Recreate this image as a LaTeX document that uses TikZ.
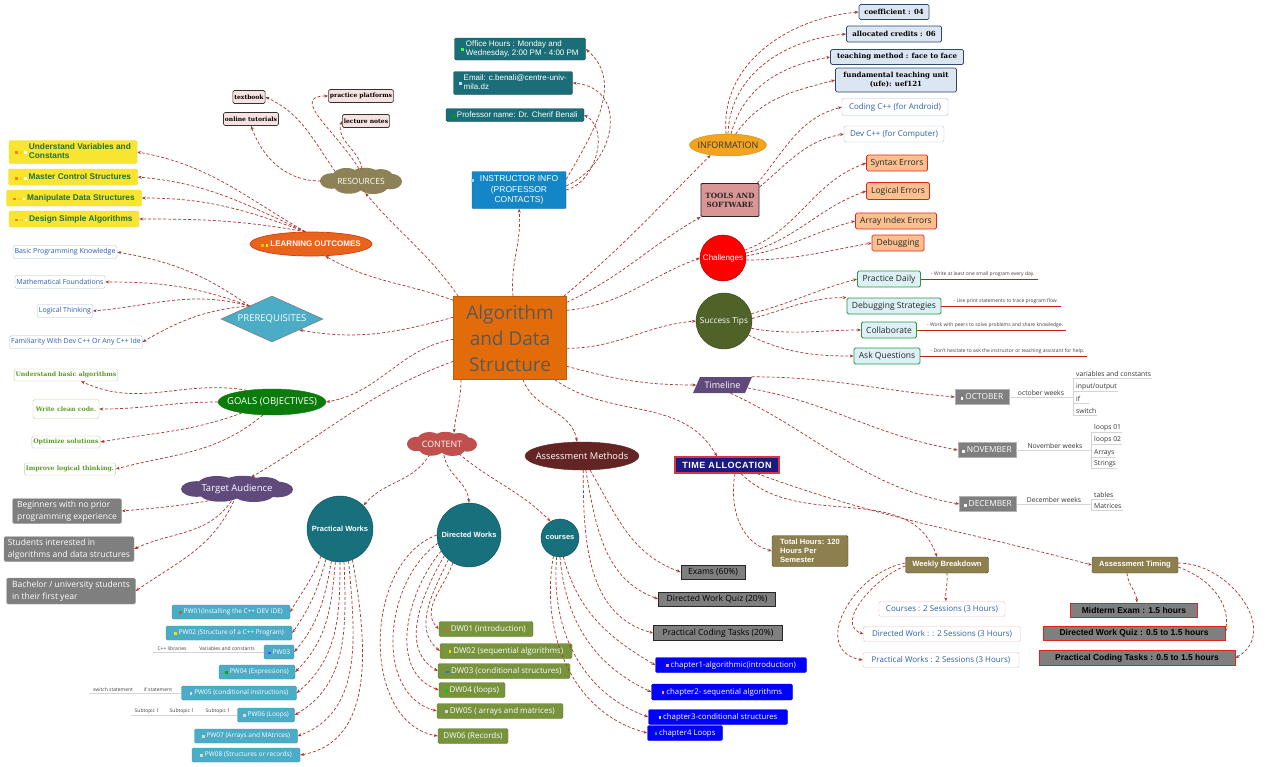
\documentclass[tikz,border=0pt]{standalone}
\usepackage{fontspec}
\setmainfont{Open Sans}
\newfontfamily\arial{Liberation Sans}
\newfontfamily\slab{DejaVu Serif}
\usetikzlibrary{shapes.geometric,shapes.symbols,arrows.meta}
\newcommand\fz[2]{\fontsize{#1}{#2}\selectfont}
\newcommand\icn[1]{\textcolor{#1}{\rule{2.6pt}{2.6pt}}\hspace{2pt}}
\newcommand\zb[1]{\makebox[0pt]{#1}}
% cloud body: centre x, centre y, width, height, colour
\newcommand\mycloud[5]{%
  \fill[#5] (#1,#2) ellipse ({0.38*#3} and {0.36*#4});
  \fill[#5] ({#1-0.36*#3},{#2}) ellipse ({0.14*#3} and {0.30*#4});
  \fill[#5] ({#1+0.36*#3},{#2-0.02*#4}) ellipse ({0.14*#3} and {0.30*#4});
  \fill[#5] ({#1-0.18*#3},{#2+0.18*#4}) ellipse ({0.17*#3} and {0.32*#4});
  \fill[#5] ({#1+0.05*#3},{#2+0.21*#4}) ellipse ({0.18*#3} and {0.30*#4});
  \fill[#5] ({#1+0.24*#3},{#2+0.16*#4}) ellipse ({0.15*#3} and {0.30*#4});
  \fill[#5] ({#1-0.15*#3},{#2-0.19*#4}) ellipse ({0.18*#3} and {0.30*#4});
  \fill[#5] ({#1+0.15*#3},{#2-0.20*#4}) ellipse ({0.18*#3} and {0.30*#4});
}
\definecolor{conc}{HTML}{A8362F}
\definecolor{orC}{HTML}{E36C0A}
\definecolor{cenT}{HTML}{595959}
\definecolor{resC}{HTML}{8C8157}
\definecolor{resCh}{HTML}{F6E2E2}
\definecolor{loC}{HTML}{E8641C}
\definecolor{loB}{HTML}{D83A10}
\definecolor{yelC}{HTML}{F7E531}
\definecolor{yelT}{HTML}{21703A}
\definecolor{preC}{HTML}{4BACC6}
\definecolor{pbB}{HTML}{A7C0DE}
\definecolor{pbT}{HTML}{2F5FA7}
\definecolor{goC}{HTML}{0B7B0B}
\definecolor{gbB}{HTML}{B3D69B}
\definecolor{gbT}{HTML}{5E9A2A}
\definecolor{taC}{HTML}{604A7B}
\definecolor{grC}{HTML}{7F7F7F}
\definecolor{insC}{HTML}{1386C8}
\definecolor{tealC}{HTML}{1B6E78}
\definecolor{infC}{HTML}{F2A41E}
\definecolor{infCh}{HTML}{DCE6F2}
\definecolor{infB}{HTML}{2B4A68}
\definecolor{toolC}{HTML}{D99694}
\definecolor{peachC}{HTML}{FAC090}
\definecolor{peB}{HTML}{E2231A}
\definecolor{stC}{HTML}{4F6228}
\definecolor{stCh}{HTML}{DDF0F5}
\definecolor{stB}{HTML}{2A9846}
\definecolor{navC}{HTML}{1A1A80}
\definecolor{navB}{HTML}{E0304A}
\definecolor{oliveC}{HTML}{8E7F4E}
\definecolor{wbB}{HTML}{F2BDBD}
\definecolor{cntC}{HTML}{C0504D}
\definecolor{circC}{HTML}{17707B}
\definecolor{pwC}{HTML}{4BACC6}
\definecolor{dwC}{HTML}{77933C}
\definecolor{amC}{HTML}{632523}
\definecolor{subL}{HTML}{D4D4D4}
\begin{document}
\begin{tikzpicture}[x=1pt,y=1pt,
  con/.style={draw=conc, line width=0.7pt, dash pattern=on 3pt off 2pt, -{Stealth[length=4pt,width=3pt]}},
  bx/.style={rectangle, rounded corners=1.5pt, inner sep=1.5pt, align=center},
  cen/.style={rectangle, fill=orC, draw=orC!85!black, minimum width=113, minimum height=83, font=\fz{19}{26}, text=cenT, align=center},
  cldn/.style={ellipse, inner sep=0pt},
  rch/.style={bx, draw=black!80, fill=resCh, line width=0.6pt, font=\slab\bfseries\fz{6}{7}, minimum height=13},
  ybox/.style={bx, fill=yelC, draw=yelC!85!orange, font=\arial\bfseries\fz{8.3}{9.5}, text=yelT, minimum height=16},
  pbox/.style={bx, draw=pbB, fill=white, font=\fz{7}{8}, text=pbT, minimum height=13},
  gbox/.style={bx, draw=gbB, fill=white, font=\slab\bfseries\fz{6.2}{7.5}, text=gbT, minimum height=12},
  tbox/.style={bx, fill=grC, draw=grC!70!white, font=\fz{8.5}{12}, text=white, align=left},
  ibox/.style={bx, fill=tealC, draw=tealC!70!black, font=\arial\fz{8}{9.5}, text=white},
  fbox/.style={bx, fill=infCh, draw=infB, line width=0.7pt, font=\slab\bfseries\fz{7}{8.5}, text=black},
  peb/.style={bx, fill=peachC, draw=peB, line width=0.7pt, font=\fz{8.5}{10}, text=black!85, minimum height=16},
  sbox/.style={bx, fill=stCh, draw=stB, line width=0.8pt, font=\fz{8.5}{10}, text=black!85, minimum height=16},
  note/.style={inner sep=1pt, font=\fz{5}{6}, text=black!75},
  notel/.style={draw=peB!85!black, line width=1pt},
  mbox/.style={bx, rounded corners=0pt, fill=grC, draw=grC!60!white, font=\fz{8.3}{9.5}, text=white, minimum height=15},
  subt/.style={inner sep=1pt, font=\fz{6.8}{8}, text=black!80},
  subl/.style={draw=subL, line width=0.9pt},
  ptx/.style={inner sep=1pt, font=\fz{5}{6}, text=black!75},
  obox/.style={bx, fill=oliveC, draw=oliveC!60!black, font=\arial\bfseries\fz{7.6}{9}, text=white, minimum height=16},
  wbx/.style={bx, fill=white, draw=wbB, font=\fz{8}{9}, text=pbT, minimum height=15},
  atx/.style={bx, rounded corners=0pt, fill=grC, draw=peB, line width=0.8pt, font=\arial\bfseries\fz{8.5}{10}, text=black, minimum height=14},
  tcir/.style={circle, fill=circC, draw=circC!70!black, font=\arial\bfseries\fz{7.5}{9}, text=white, inner sep=0pt},
  pwx/.style={bx, fill=pwC, draw=pwC!85!black, font=\fz{6.5}{8}, text=white, minimum height=14},
  dwx/.style={bx, fill=dwC, draw=dwC!85!black, font=\fz{8}{9.5}, text=white, minimum height=15},
  cx/.style={bx, fill=blue, draw=blue!80!black, font=\fz{7.8}{9}, text=white, minimum height=15},
  amx/.style={bx, rounded corners=0pt, fill=grC, draw=black!85, line width=0.8pt, font=\fz{8.5}{10}, text=black, minimum height=14}
]
\useasboundingbox (0,0) rectangle (1280,-766);
\fill[white] (0,0) rectangle (1280,-766);

% ---------- central
\node[cen] (c) at (510,-338) {Algorithm\\and Data\\Structure};

% ---------- resources
\mycloud{361}{-181}{82}{26}{resC}
\node[cldn, text=white, font=\fz{8.5}{10}, minimum width=80, minimum height=24] (res) at (361,-181) {\zb{RESOURCES}};
\node[rch] (tb) at (249,-97) {textbook};
\node[rch] (ot) at (251,-119) {online tutorials};
\node[rch] (pp) at (361,-96) {practice platforms};
\node[rch] (ln) at (366,-121) {lecture notes};

% ---------- learning outcomes
\node[ellipse, fill=loC, draw=loB, line width=0.7pt, text=white, font=\arial\bfseries\fz{8}{9}, minimum width=122, minimum height=24, inner sep=0pt] (lo) at (311,-244) {\zb{\icn{orange!60!yellow}\icn{yellow}LEARNING OUTCOMES}};
\node[ybox, minimum width=128, minimum height=23] (lo1) at (73,-152) {\icn{orange}\icn{yellow!70!orange}\icn{white}\begin{tabular}[c]{@{}l@{}}Understand Variables and\\Constants\end{tabular}};
\node[ybox, minimum width=129] (lo2) at (73,-177) {\icn{orange}\icn{yellow!70!orange}\icn{white}Master Control Structures};
\node[ybox, minimum width=135] (lo3) at (74,-198) {\icn{orange}\icn{yellow!70!orange}\icn{white}Manipulate Data Structures};
\node[ybox, minimum width=130] (lo4) at (74,-219) {\icn{orange}\icn{yellow!70!orange}\icn{white}Design Simple Algorithms};

% ---------- prerequisites
\node[diamond, fill=preC, draw=gray, line width=0.6pt, text=white, font=\fz{9.5}{11}, minimum width=102, minimum height=46, inner sep=0pt] (pre) at (272,-319) {\zb{PREREQUISITES}};
\node[pbox] (p1) at (65,-252) {Basic Programming Knowledge};
\node[pbox] (p2) at (60,-282) {Mathematical Foundations};
\node[pbox] (p3) at (65,-311) {Logical Thinking};
\node[pbox] (p4) at (76,-342) {Familiarity With Dev C++ Or Any C++ Ide};

% ---------- goals
\node[ellipse, fill=goC, draw=goC, text=white, font=\fz{9.5}{11}, minimum width=108, minimum height=26, inner sep=0pt] (go) at (272,-402) {\zb{GOALS (OBJECTIVES)}};
\node[gbox] (g1) at (66,-375) {Understand basic algorithms};
\node[gbox, minimum width=66, minimum height=19] (g2) at (66,-409) {Write clean code.};
\node[gbox] (g3) at (66,-442) {Optimize solutions};
\node[gbox] (g4) at (70,-469) {Improve logical thinking.};

% ---------- target audience
\mycloud{237}{-489}{112}{26}{taC}
\node[cldn, text=white, font=\fz{9.5}{11}, minimum width=110, minimum height=24] (ta) at (237,-489) {\zb{Target Audience}};
\node[tbox, minimum width=109, minimum height=25] (t1) at (67,-511) {Beginners with no prior\\programming experience};
\node[tbox, minimum width=130, minimum height=25] (t2) at (69,-549) {Students interested in\\algorithms and data structures};
\node[tbox, minimum width=129, minimum height=26] (t3) at (71,-591) {Bachelor / university students\\in their first year};

% ---------- instructor
\node[bx, rounded corners=1pt, fill=insC, draw=insC!80!black, text=white, font=\arial\fz{8.5}{10.5}, minimum width=94, minimum height=37] (ins) at (519,-190) {\llap{\icn{cyan!40}\hspace{4pt}}INSTRUCTOR INFO\\(PROFESSOR\\CONTACTS)};
\node[ibox, minimum width=131, minimum height=22] (i1) at (520,-49) {\icn{green!75}\begin{tabular}[c]{@{}l@{}}Office Hours : Monday and\\Wednesday, 2:00 PM - 4:00 PM\end{tabular}};
\node[ibox, minimum width=119, minimum height=23] (i2) at (513,-83) {\icn{cyan!30}\begin{tabular}[c]{@{}l@{}}Email: c.benali@centre-univ-\\mila.dz\end{tabular}};
\node[ibox, minimum width=138, minimum height=13] (i3) at (515,-115) {\icn{green!60!black}Professor name: Dr. Cherif Benali};

% ---------- information
\node[ellipse, fill=infC, draw=infC!85!black, text=black!80, font=\fz{9}{10}, minimum width=77, minimum height=22, inner sep=0pt] (inf) at (728,-145) {\zb{INFORMATION}};
\node[fbox, minimum width=70, minimum height=15] (f1) at (894,-12) {coefficient : 04};
\node[fbox, minimum width=95, minimum height=16] (f2) at (894,-34) {allocated credits : 06};
\node[fbox, minimum width=133, minimum height=15] (f3) at (897,-57) {teaching method : face to face};
\node[fbox, minimum width=121, minimum height=24] (f4) at (896,-80) {fundamental teaching unit\\(ufe): uef121};

% ---------- tools
\node[bx, rounded corners=1pt, fill=toolC, draw=black!85, line width=0.8pt, font=\slab\bfseries\fz{7.2}{9}, text=black!85, minimum width=58, minimum height=33] (tool) at (730,-200) {TOOLS AND\\SOFTWARE};
\node[pbox, font=\fz{8}{9}, minimum height=17, minimum width=106] (tc1) at (895,-107) {Coding C++ (for Android)};
\node[pbox, font=\fz{8}{9}, minimum height=16, minimum width=100] (tc2) at (894,-134) {Dev C++ (for Computer)};

% ---------- challenges
\node[circle, fill=red, draw=red!50!black, text=white, font=\arial\fz{8}{9}, minimum size=46, inner sep=0pt] (ch) at (723,-258) {\zb{Challenges}};
\node[peb, minimum width=61] (ch1) at (897,-163) {Syntax Errors};
\node[peb, minimum width=63, minimum height=17] (ch2) at (898,-191) {Logical Errors};
\node[peb, minimum width=81] (ch3) at (896,-221) {Array Index Errors};
\node[peb, minimum width=52] (ch4) at (898,-243) {Debugging};

% ---------- success tips
\node[circle, fill=stC, draw=stC!70!black, text=white, font=\fz{8.3}{9}, minimum size=56, inner sep=0pt] (st) at (724,-321) {\zb{Success Tips}};
\node[sbox, minimum width=63] (s1) at (889,-279) {Practice Daily};
\node[sbox, minimum width=94] (s2) at (894,-306) {Debugging Strategies};
\node[sbox, minimum width=55] (s3) at (889,-330) {Collaborate};
\node[sbox, minimum width=66] (s4) at (887,-356) {Ask Questions};
\node[note, anchor=south west] (n1) at ([xshift=9,yshift=1]s1.east) {- Write at least one small program every day.};
\node[note, anchor=south west] (n2) at ([xshift=11,yshift=1]s2.east) {- Use print statements to trace program flow.};
\node[note, anchor=south west] (n3) at ([xshift=9,yshift=1]s3.east) {- Work with peers to solve problems and share knowledge.};
\node[note, anchor=south west] (n4) at ([xshift=9,yshift=1]s4.east) {- Don't hesitate to ask the instructor or teaching assistant for help.};
\draw[notel] (s1.east) -- ([xshift=2]s1.east -| n1.east);
\draw[notel] (s2.east) -- ([xshift=2]s2.east -| n2.east);
\draw[notel] (s3.east) -- ([xshift=2]s3.east -| n3.east);
\draw[notel] (s4.east) -- ([xshift=2]s4.east -| n4.east);

% ---------- timeline (parallelogram)
\fill[taC] (693,-393) -- (745,-393) -- (752,-377) -- (700,-377) -- cycle;
\node[rectangle, text=white, font=\fz{9}{10}, minimum width=52, minimum height=16, inner sep=1pt] (tl) at (722.5,-385) {Timeline};
\node[mbox, minimum width=54] (oct) at (982,-397) {\icn{white!80!pink}OCTOBER};
\node[mbox, minimum width=58] (nov) at (987,-450) {\icn{white!80!pink}NOVEMBER};
\node[mbox, minimum width=57] (dec) at (988,-504) {\icn{white!80!pink}DECEMBER};
% october
\coordinate (octj) at (1073,-397);
\coordinate (ov1) at (1073,-378);
\coordinate (ov2) at (1073,-415);
\draw[subl] (oct.east) -- (octj);
\draw[subl] (ov1) -- (ov2);
\node[subt, anchor=south] (ow) at (1041,-397) {october weeks};
\node[subt, anchor=south west] (o1) at (1075,-378) {variables and constants};
\node[subt, anchor=south west] (o2) at (1075,-391) {input/output};
\node[subt, anchor=south west] (o3) at (1075,-403) {if};
\node[subt, anchor=south west] (o4) at (1075,-415) {switch};
\draw[subl] (ov1) -- (o1.south east);
\draw[subl] (o2.south west -| octj) -- (o2.south east);
\draw[subl] (o3.south west -| octj) -- ([xshift=8]o3.south east);
\draw[subl] (o4.south west -| octj) -- (o4.south east);
% november
\coordinate (novj) at (1091,-450);
\coordinate (nv1) at (1091,-432);
\coordinate (nv2) at (1091,-468);
\draw[subl] (nov.east) -- (novj);
\draw[subl] (nv1) -- (nv2);
\node[subt, anchor=south] (nw) at (1055,-450) {November weeks};
\node[subt, anchor=south west] (v1) at (1093,-432) {loops 01};
\node[subt, anchor=south west] (v2) at (1093,-444) {loops 02};
\node[subt, anchor=south west] (v3) at (1093,-457) {Arrays};
\node[subt, anchor=south west] (v4) at (1093,-468) {Strings};
\draw[subl] (nv1) -- (v1.south east);
\draw[subl] (v2.south west -| novj) -- (v2.south east);
\draw[subl] (v3.south west -| novj) -- (v3.south east);
\draw[subl] (v4.south west -| novj) -- (v4.south east);
% december
\coordinate (decj) at (1091,-504);
\coordinate (dv1) at (1091,-499);
\coordinate (dv2) at (1091,-510);
\draw[subl] (dec.east) -- (decj);
\draw[subl] (dv1) -- (dv2);
\node[subt, anchor=south] (dw) at (1054,-504) {December weeks};
\node[subt, anchor=south west] (d1) at (1093,-499) {tables};
\node[subt, anchor=south west] (d2) at (1093,-510) {Matrices};
\draw[subl] (dv1) -- (d1.south east);
\draw[subl] (d2.south west -| decj) -- (d2.south east);

% ---------- time allocation
\node[bx, rounded corners=0pt, fill=navC, draw=navB, line width=1.2pt, text=white, font=\arial\bfseries\fz{9}{10}\addfontfeature{LetterSpace=6}, minimum width=104, minimum height=16] (tall) at (727,-465) {TIME ALLOCATION};
\node[obox, align=left, minimum width=76, minimum height=31] (th) at (810,-551) {Total Hours: 120\\Hours Per\\Semester};
\node[obox, minimum width=83] (wb) at (947,-565) {Weekly Breakdown};
\node[obox, minimum width=86] (at) at (1135,-565) {Assessment Timing};
\node[wbx, minimum width=126] (wb1) at (942,-609) {Courses : 2 Sessions (3 Hours)};
\node[wbx, minimum width=157] (wb2) at (942,-634) {Directed Work : : 2 Sessions (3 Hours)};
\node[wbx, minimum width=156] (wb3) at (941,-660) {Practical Works : 2 Sessions (3 Hours)};
\node[atx, minimum width=127] (at1) at (1134,-610) {Midterm Exam : 1.5 hours};
\node[atx, minimum width=182] (at2) at (1134,-633) {Directed Work Quiz : 0.5 to 1.5 hours};
\node[atx, minimum width=196, minimum height=15] (at3) at (1137,-658) {Practical Coding Tasks : 0.5 to 1.5 hours};

% ---------- content
\mycloud{442}{-444}{70}{24}{cntC}
\node[cldn, text=white, font=\fz{8.8}{10}, minimum width=68, minimum height=22] (cnt) at (442,-444) {\zb{CONTENT}};
\node[tcir, minimum size=66] (pwc) at (340,-529) {\zb{Practical Works}};
\node[tcir, minimum size=64] (dwc) at (469,-535) {\zb{Directed Works}};
\node[tcir, minimum size=38] (cc) at (560,-538) {\zb{courses}};

\node[pwx, minimum width=118] (pw1) at (231,-612) {\icn{red!75}PW01(Installing the C++ DEV IDE)};
\node[pwx, minimum width=126] (pw2) at (229,-633) {\icn{yellow!80!orange}PW02 (Structure of a C++ Program)};
\node[pwx, minimum width=30] (pw3) at (279,-652) {\icn{blue!70}PW03};
\node[pwx, minimum width=76] (pw4) at (257,-672) {\icn{green!70!black}PW04 (Expressions)};
\node[pwx, minimum width=115] (pw5) at (239,-693) {\icn{white!70!gray}PW05 (conditional instructions)};
\node[pwx, minimum width=57] (pw6) at (266,-715) {\icn{white!70!gray}PW06 (Loops)};
\node[pwx, minimum width=103] (pw7) at (246,-736) {\icn{white!70!gray}PW07 (Arrays and MAtrices)};
\node[pwx, minimum width=108] (pw8) at (246,-755) {\icn{white!70!gray}PW08 (Structures or records)};
\node[ptx, anchor=south] (p3a) at (172,-652) {C++ libraries};
\node[ptx, anchor=south] (p3b) at (227,-652) {Variables and constants};
\draw[subl] ([xshift=-3]p3a.south west) -- (pw3.west);
\node[ptx, anchor=south] (p5a) at (113,-693) {switch statement};
\node[ptx, anchor=south] (p5b) at (158,-693) {if statement};
\draw[subl] ([xshift=-3]p5a.south west) -- (pw5.west);
\node[ptx, anchor=south] (p6a) at (147,-715) {Subtopic 1};
\node[ptx, anchor=south] (p6b) at (182,-715) {Subtopic 1};
\node[ptx, anchor=south] (p6c) at (218,-715) {Subtopic 1};
\draw[subl] ([xshift=-3]p6a.south west) -- (pw6.west);

\node[dwx, minimum width=94] (dw1) at (486,-629) {\icn{red!70}DW01 (introduction)};
\node[dwx, minimum width=132] (dw2) at (506,-651) {\icn{yellow!80!orange}DW02 (sequential algorithms)};
\node[dwx, minimum width=132] (dw3) at (504,-671) {\icn{cyan!60!blue}DW03 (conditional structures)};
\node[dwx, minimum width=66] (dw4) at (472,-690) {\icn{green!80!black}DW04 (loops)};
\node[dwx, minimum width=126] (dw5) at (500,-711) {\icn{white!70!gray}DW05 ( arrays and matrices)};
\node[dwx, minimum width=70] (dw6) at (473,-736) {DW06 (Records)};

\node[cx, minimum width=151] (c1) at (731,-665) {\icn{pink!80!red}chapter1-algorithmic(introduction)};
\node[cx, minimum width=141, minimum height=16] (c2) at (722,-692) {\icn{orange!60!yellow}chapter2- sequential algorithms};
\node[cx, minimum width=139] (c3) at (718,-717) {\icn{cyan!30}chapter3-conditional structures};
\node[cx, minimum width=75] (c4) at (685,-733) {\icn{teal!60!green}chapter4 Loops};

% ---------- assessment methods
\node[ellipse, fill=amC, draw=amC, text=white, font=\fz{9.3}{10}, minimum width=114, minimum height=28, inner sep=0pt] (am) at (582,-456) {\zb{Assessment Methods}};
\node[amx, minimum width=64] (am1) at (713,-572) {Exams (60\%)};
\node[amx, minimum width=117] (am2) at (717,-599) {Directed Work Quiz (20\%)};
\node[amx, minimum width=129, minimum height=15] (am3) at (718,-633) {Practical Coding Tasks (20\%)};

% =============== connectors
% central -> main branches
\draw[con] ([xshift=5]c.north west) to[out=125,in=-50] (res.-70);
\draw[con] ([yshift=-4]c.north west) to[out=160,in=-30] (lo.-40);
\draw[con] ([yshift=-21]c.north west) to[out=195,in=-10] (pre.-22);
\draw[con] ([yshift=-43]c.north west) to[out=190,in=10] (go.east);
\draw[con] ([yshift=-65]c.north west) to[out=200,in=30] (ta.40);
\draw[con] ([xshift=3]c.north) to[out=95,in=-85] (ins.south);
\draw[con] ([xshift=-3]c.north east) to[out=40,in=-135] (inf.-150);
\draw[con] ([yshift=-6]c.north east) to[out=25,in=210] (tool.-150);
\draw[con] ([yshift=-14]c.north east) to[out=5,in=200] (ch.west);
\draw[con] ([yshift=-52]c.north east) to[out=0,in=185] (st.west);
\draw[con] ([yshift=-70]c.north east) to[out=-15,in=180] (tl.west);
\draw[con] ([xshift=-12]c.south east) to[out=-35,in=120] ([xshift=-10]tall.north);
\draw[con] ([xshift=-49]c.south) to[out=-90,in=85] ([xshift=12]cnt.north);
\draw[con] ([xshift=13]c.south) to[out=-70,in=100] ([xshift=-5]am.north);

% resources
\draw[con] (res.160) to[out=125,in=-25] (tb.east);
\draw[con] (res.west) to[out=180,in=-70] (ot.south);
\draw[con] (res.100) to[out=120,in=180,looseness=1.3] (pp.west);
\draw[con] (res.85) to[out=100,in=-110] (ln.west);

% learning outcomes
\draw[con] (lo.115) to[out=150,in=-10] (lo1.east);
\draw[con] (lo.115) to[out=155,in=-5] (lo2.east);
\draw[con] (lo.115) to[out=160,in=0] (lo3.east);
\draw[con] (lo.115) to[out=170,in=0] (lo4.east);

% prerequisites
\draw[con] (pre.150) to[out=145,in=-10] (p1.east);
\draw[con] (pre.150) to[out=160,in=0] (p2.east);
\draw[con] (pre.150) to[out=165,in=5] (p3.east);
\draw[con] (pre.150) to[out=185,in=30] (p4.east);

% goals
\draw[con] (go.155) to[out=170,in=-25] ([xshift=15]g1.south);
\draw[con] (go.west) to[out=180,in=0] (g2.east);
\draw[con] (go.200) to[out=200,in=10] (g3.east);
\draw[con] (go.235) to[out=220,in=15] (g4.east);

% target audience
\draw[con] (ta.205) to[out=190,in=5] (t1.east);
\draw[con] (ta.245) to[out=235,in=25] (t2.east);
\draw[con] (ta.255) to[out=245,in=35] (t3.east);

% instructor
\draw[con] ([yshift=-8]ins.north east) to[out=60,in=-40] (i1.east);
\draw[con] ([yshift=4]ins.east) to[out=25,in=-5,looseness=1.4] (i2.east);
\draw[con] (ins.east) to[out=15,in=-30] (i3.east);

% information
\draw[con] (inf.100) to[out=95,in=185] (f1.west);
\draw[con] (inf.90) to[out=88,in=185] (f2.west);
\draw[con] (inf.75) to[out=75,in=190] (f3.west);
\draw[con] (inf.55) to[out=55,in=195] (f4.west);

% tools
\draw[con] ([xshift=-2]tool.north east) to[out=50,in=195] (tc1.west);
\draw[con] ([yshift=-4]tool.north east) to[out=40,in=190] (tc2.west);

% challenges
\draw[con] (ch.20) to[out=20,in=200] (ch1.west);
\draw[con] (ch.12) to[out=15,in=200] (ch2.west);
\draw[con] (ch.5) to[out=10,in=195] (ch3.west);
\draw[con] (ch.-5) to[out=0,in=190] (ch4.west);

% success tips
\draw[con] (st.15) to[out=15,in=195] (s1.west);
\draw[con] (st.5) to[out=15,in=180] (s2.north west);
\draw[con] (st.-15) to[out=-10,in=180] (s3.west);
\draw[con] (st.-30) to[out=-25,in=180] (s4.west);

% timeline
\draw[con] ([xshift=3]tl.north east) to[out=0,in=175] (oct.west);
\draw[con] ([xshift=-1,yshift=-3]tl.east) to[out=-10,in=170] (nov.west);
\draw[con] ([xshift=8]tl.south) to[out=-25,in=170] (dec.west);

% time allocation
\draw[con] ([xshift=8]tall.south) to[out=-100,in=165] (th.west);
\draw[con] ([xshift=14]tall.south) to[out=-45,in=110] ([xshift=-10]wb.north);
\draw[con] ([xshift=30]tall.south) to[out=-20,in=165] (at.west);
\draw[con] (wb.south) to[out=-85,in=95] ([xshift=4]wb1.north);
\draw[con] ([yshift=-1]wb.west) to[out=200,in=160] (wb2.west);
\draw[con] ([yshift=2]wb.west) to[out=190,in=170,looseness=1.3] (wb3.west);
\draw[con] ([xshift=-8]at.south) to[out=-85,in=95] ([xshift=3]at1.north);
\draw[con] ([yshift=-2]at.east) to[out=-20,in=80] ([yshift=1]at2.east);
\draw[con] ([yshift=2]at.east) to[out=0,in=30,looseness=1.2] (at3.east);

% content
\draw[con] (cnt.220) to[out=-120,in=50] (pwc.45);
\draw[con] (cnt.-80) to[out=-80,in=95] (dwc.north);
\draw[con] (cnt.-30) to[out=-40,in=135] (cc.120);

\draw[con] (pwc.235) to[out=-110,in=60] (pw1.east);
\draw[con] (pwc.245) to[out=-105,in=55] (pw2.east);
\draw[con] (pwc.255) to[out=-100,in=50] (pw3.east);
\draw[con] (pwc.262) to[out=-95,in=45] (pw4.east);
\draw[con] (pwc.270) to[out=-90,in=40] (pw5.east);
\draw[con] (pwc.277) to[out=-88,in=30] (pw6.east);
\draw[con] (pwc.285) to[out=-85,in=20] (pw7.east);
\draw[con] (pwc.292) to[out=-80,in=10] (pw8.east);

\draw[con] (dwc.240) to[out=250,in=135] (dw1.west);
\draw[con] (dwc.230) to[out=245,in=140] (dw2.west);
\draw[con] (dwc.220) to[out=240,in=150] (dw3.west);
\draw[con] (dwc.210) to[out=230,in=160] (dw4.west);
\draw[con] (dwc.195) to[out=215,in=165] (dw5.west);
\draw[con] (dwc.180) to[out=200,in=170] (dw6.west);

\draw[con] (cc.-80) to[out=-75,in=150] (c1.west);
\draw[con] (cc.-90) to[out=-85,in=155] (c2.west);
\draw[con] (cc.-100) to[out=-95,in=160] (c3.west);
\draw[con] (cc.-110) to[out=-100,in=165] (c4.west);

% assessment methods
\draw[con] (am.-60) to[out=-60,in=160] (am1.west);
\draw[con] (am.-75) to[out=-80,in=160] (am2.west);
\draw[con] (am.-85) to[out=-90,in=165] (am3.west);
\end{tikzpicture}
\end{document}
